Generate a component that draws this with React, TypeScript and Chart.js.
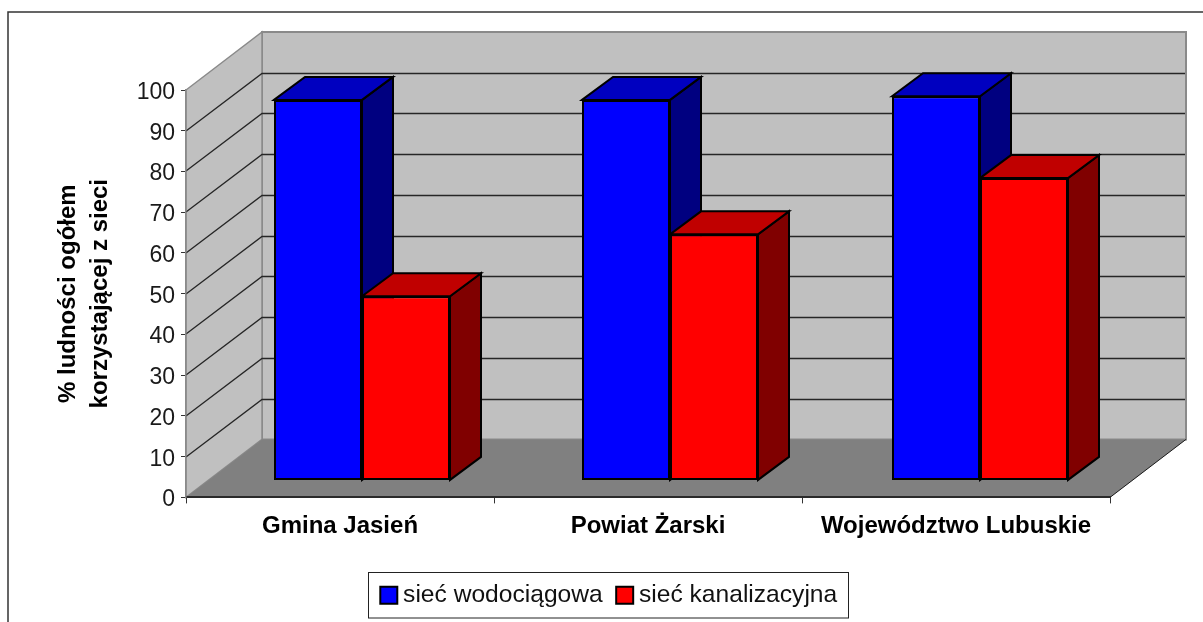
import React, { useEffect, useRef } from "react";
import { Chart, registerables } from "chart.js";

Chart.register(...registerables);

const categories = ["Gmina Jasień", "Powiat Żarski", "Województwo Lubuskie"];
const seriesNames = ["sieć wodociągowa", "sieć kanalizacyjna"];
const waterValues = [93.4, 93.4, 94.3];
const sewerValues = [45.2, 60.4, 74.2];
const yTitle = ["% ludności ogółem", "korzystającej z sieci"];

const frontColors = ["#0000ff", "#ff0000"];
const topColors = ["#0000c0", "#c00000"];
const sideColors = ["#000080", "#800000"];

const FONT = "'Liberation Sans', Arial, sans-serif";
const WALL = "#c0c0c0";
const FLOOR = "#808080";
const EDGE = "#8a8a8a";
const GRID = "#262626";
const WALL_DX = 76;
const WALL_DY = -58;
const BAR_DX = 22;
const BAR_DY = -17;
const DEPTH_DX = 31;
const DEPTH_DY = -23;
const GROUP_NUDGE = [0, 0, 2];

function poly(ctx: CanvasRenderingContext2D, pts: number[][], fill: string | null, stroke: string | null, lw = 1) {
  ctx.beginPath();
  pts.forEach((p, i) => (i ? ctx.lineTo(p[0], p[1]) : ctx.moveTo(p[0], p[1])));
  ctx.closePath();
  if (fill) {
    ctx.fillStyle = fill;
    ctx.fill();
  }
  if (stroke) {
    ctx.strokeStyle = stroke;
    ctx.lineWidth = lw;
    ctx.lineJoin = "miter";
    ctx.stroke();
  }
}

const scene3d = {
  id: "scene3d",
  afterLayout(chart: any) {
    // legend sits on the full picture width, not on the plot's width
    chart.legend.left = 21;
    chart.legend.right = 1203;
  },
  afterDatasetsUpdate(chart: any) {
    [0, 1].forEach((di) => {
      chart.getDatasetMeta(di).data.forEach((bar: any, i: number) => {
        bar.x += GROUP_NUDGE[i];
      });
    });
  },
  beforeDraw(chart: any) {
    const { ctx, scales } = chart;
    const { x, y } = scales;
    const l = x.left;
    const r = x.right;
    const b = y.getPixelForValue(0);
    const t = y.getPixelForValue(100);
    ctx.save();

    // outer chart frame, running off the picture
    ctx.strokeStyle = "#333333";
    ctx.lineWidth = 1.5;
    ctx.strokeRect(8, 12, 1400, 800);

    // legend frame
    ctx.fillStyle = "#ffffff";
    ctx.fillRect(368.5, 572.5, 480, 45.5);
    ctx.strokeStyle = "#222222";
    ctx.lineWidth = 1;
    ctx.strokeRect(368.5, 572.5, 480, 45.5);

    // back wall, side wall, floor
    poly(ctx, [[l + WALL_DX, t + WALL_DY], [r + WALL_DX, t + WALL_DY], [r + WALL_DX, b + WALL_DY], [l + WALL_DX, b + WALL_DY]], WALL, EDGE, 2);
    poly(ctx, [[l, b], [l + WALL_DX, b + WALL_DY], [l + WALL_DX, t + WALL_DY], [l, t]], WALL, EDGE, 1.5);
    poly(ctx, [[l, b], [l + WALL_DX, b + WALL_DY], [r + WALL_DX, b + WALL_DY], [r, b]], FLOOR, null);

    // gridlines
    ctx.strokeStyle = GRID;
    ctx.lineWidth = 1.3;
    y.ticks.forEach((tick: any) => {
      if (tick.value === 0 || tick.value === 100) return;
      const py = Math.round(y.getPixelForValue(tick.value));
      ctx.beginPath();
      ctx.moveTo(l, py);
      ctx.lineTo(l + WALL_DX, py + WALL_DY + 0.5);
      ctx.lineTo(r + WALL_DX - 1, py + WALL_DY + 0.5);
      ctx.stroke();
    });

    // floor's far-right edge
    ctx.strokeStyle = "#1a1a1a";
    ctx.lineWidth = 1;
    ctx.beginPath();
    ctx.moveTo(r, b);
    ctx.lineTo(r + WALL_DX, b + WALL_DY);
    ctx.stroke();
    ctx.restore();
  },
  beforeDatasetsDraw(chart: any) {
    const { ctx } = chart;
    ctx.save();
    ctx.translate(BAR_DX, BAR_DY);
    [0, 1].forEach((di) => {
      chart.getDatasetMeta(di).data.forEach((bar: any) => {
        const { x, y, base, width } = bar.getProps(["x", "y", "base", "width"], true);
        const L = x - width / 2;
        const R = x + width / 2;
        poly(ctx, [[R, y], [R + DEPTH_DX, y + DEPTH_DY], [R + DEPTH_DX, base + DEPTH_DY], [R, base]], sideColors[di], "#000000", 2);
        poly(ctx, [[L, y], [L + DEPTH_DX, y + DEPTH_DY], [R + DEPTH_DX, y + DEPTH_DY], [R, y]], topColors[di], "#000000", 2);
      });
    });
    ctx.restore();
  },
  beforeDatasetDraw(chart: any) {
    chart.ctx.save();
    chart.ctx.translate(BAR_DX, BAR_DY);
  },
  afterDatasetDraw(chart: any) {
    chart.ctx.restore();
  },
};

export default function App() {
  const ref = useRef<HTMLCanvasElement | null>(null);
  useEffect(() => {
    const chart = new Chart(ref.current as HTMLCanvasElement, {
      type: "bar",
      data: {
        labels: categories,
        datasets: [waterValues, sewerValues].map((values, i) => ({
          label: seriesNames[i],
          data: values,
          backgroundColor: frontColors[i],
          borderColor: "#000000",
          borderWidth: 2,
          borderSkipped: false,
          barPercentage: 1,
          categoryPercentage: 176 / 308,
          clip: false,
        })),
      } as any,
      options: {
        responsive: false,
        animation: false,
        layout: { padding: { top: 90, right: 93, left: 0, bottom: 4.5 } },
        plugins: {
          tooltip: { enabled: false },
          title: { display: false },
          legend: {
            position: "bottom",
            labels: {
              font: { family: FONT, size: 24.6 },
              color: "#111111",
              usePointStyle: true,
              pointStyle: "rect",
              boxWidth: 4,
              boxHeight: 17,
              padding: 20,
            },
          },
        },
        scales: {
          x: {
            afterFit: (s: any) => {
              s.height = 65.5;
            },
            border: { color: "#2a2a2a", width: 2 },
            grid: { drawOnChartArea: false, tickLength: 6, color: "#333333", offset: true },
            ticks: {
              color: "#000000",
              font: { family: FONT, size: 24, weight: "bold" },
              padding: 9,
              autoSkip: false,
              maxRotation: 0,
            },
          },
          y: {
            min: 0,
            max: 100,
            afterFit: (s: any) => {
              s.width = 186;
            },
            border: { color: EDGE, width: 1.5 },
            grid: { drawOnChartArea: false, tickLength: 5, color: "#333333" },
            ticks: {
              stepSize: 10,
              color: "#1a1a1a",
              font: { family: FONT, size: 23 },
              padding: 6,
              labelOffset: 2.5,
            },
            title: {
              display: true,
              text: yTitle,
              color: "#000000",
              font: { family: FONT, size: 24, weight: "bold", lineHeight: 32 / 24 },
              padding: { top: 52, bottom: 0 },
            },
          },
        },
      },
      plugins: [scene3d],
    } as any);
    return () => chart.destroy();
  }, []);
  return (
    <canvas
      ref={ref}
      width={1203}
      height={622}
      style={{ position: "absolute", left: 0, top: 0, display: "block" }}
    />
  );
}
